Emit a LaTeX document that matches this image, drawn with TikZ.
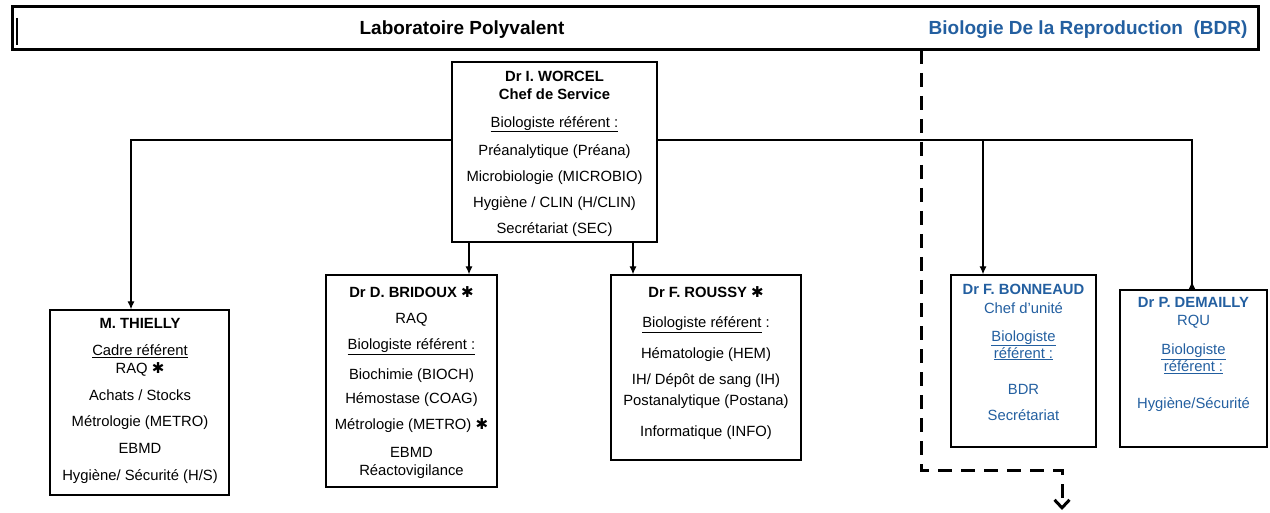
\documentclass[tikz,border=0pt]{standalone}
\usepackage{fontspec}
\setmainfont{Liberation Sans}
\newfontfamily\astfont{DejaVu Sans}
\usepackage{tikz}
\usetikzlibrary{arrows.meta}
\usetikzlibrary{positioning}
\usepackage{xcolor}
\definecolor{bdrblue}{RGB}{35,95,160}
\newcommand{\refmark}{{\astfont\fontsize{15}{16}\selectfont ✱}}
\newcommand{\ul}[1]{\underline{#1}}

\begin{document}
\begin{tikzpicture}[x=1pt,y=-1pt,
    unit/.style={draw,line width=1.3pt,inner sep=0pt},
    txt/.style={align=center,inner sep=0pt,anchor=north,
      font=\fontsize{14.8}{18}\selectfont},
    arr/.style={line width=1.2pt,-{Latex[length=8pt,width=7pt]}},
    revarr/.style={line width=1.2pt,-{Latex[length=8pt,width=7pt,reversed]}},
    dashline/.style={line width=3pt,dash pattern=on 14pt off 9pt,
      -{Straight Barb[length=8pt,width=15pt]}}]
  \useasboundingbox (0,0) rectangle (1270,513);
  %% banner
  \node[draw,line width=3pt,minimum width=1246pt,minimum height=43pt]
    (banner) at (635,28.5) {};
  \draw[line width=1.5pt] (17,18) -- (17,45);
  \node[font=\fontsize{19}{20}\selectfont\bfseries] (labo) at (462,30)
    {Laboratoire Polyvalent};
  \node[font=\fontsize{19}{20}\selectfont\bfseries,text=bdrblue,anchor=east]
    (bdr) at (1251,30) {Biologie De la Reproduction\ \ (BDR)};
  %% boxes
  \node[unit,minimum width=205pt,minimum height=180pt] (worcel) at (554.5,152) {};
  \node[unit,minimum width=179pt,minimum height=185pt] (thielly) at (139.5,402.5) {};
  \node[unit,minimum width=171pt,minimum height=212pt] (bridoux) at (411.5,381) {};
  \node[unit,minimum width=190pt,minimum height=185pt] (roussy) at (706,367.5) {};
  \node[unit,minimum width=145pt,minimum height=172pt] (bonneaud) at (1023.5,361) {};
  \node[unit,minimum width=147pt,minimum height=157pt] (demailly) at (1193.5,368.5) {};
  %% texts
  \node[txt] (worcel-txt) at (554.5,70.5) {\textbf{Dr I. WORCEL}\\
    \textbf{Chef de Service}\\[10pt]
    \ul{Biologiste référent :}\\[10pt]
    Préanalytique (Préana)\\[8pt]
    Microbiologie (MICROBIO)\\[8pt]
    Hygiène / CLIN (H/CLIN)\\[8pt]
    Secrétariat (SEC)};
  \node[txt] (thielly-txt) at (140,318.5) {\textbf{M. THIELLY}\\[9pt]
    \ul{Cadre référent}\\
    RAQ \refmark\\[9pt]
    Achats / Stocks\\[8pt]
    Métrologie (METRO)\\[9pt]
    EBMD\\[9pt]
    Hygiène/ Sécurité (H/S)};
  \node[txt] (bridoux-txt) at (411.5,286.5) {\textbf{Dr D. BRIDOUX} \refmark\\[8pt]
    RAQ\\[8pt]
    \ul{Biologiste référent :}\\[12pt]
    Biochimie (BIOCH)\\[6pt]
    Hémostase (COAG)\\[8pt]
    Métrologie (METRO) \refmark\\[10pt]
    EBMD\\
    Réactovigilance};
  \node[txt] (roussy-txt) at (706,286.5) {\textbf{Dr F. ROUSSY} \refmark\\[12pt]
    \ul{Biologiste référent} :\\[13pt]
    Hématologie (HEM)\\[8pt]
    IH/ Dépôt de sang (IH)\\[3pt]
    Postanalytique (Postana)\\[13pt]
    Informatique (INFO)};
  \node[txt,text=bdrblue] (bonneaud-txt) at (1023.5,283.5) {\textbf{Dr F. BONNEAUD}\\[1pt]
    Chef d'unité\\[10pt]
    \ul{Biologiste}\\[-1pt]
    \ul{référent :}\\[18pt]
    BDR\\[8pt]
    Secrétariat};
  \node[txt,text=bdrblue] (demailly-txt) at (1193.5,297.5) {\textbf{Dr P. DEMAILLY}\\
    RQU\\[11pt]
    \ul{Biologiste}\\[-1pt]
    \ul{référent :}\\[19pt]
    Hygiène/Sécurité};
  %% connectors
  \coordinate (lcorner) at (131,140);
  \coordinate (rcorner) at (1192,140);
  \coordinate (bjoin) at (983,140);
  \draw[arr] (worcel.west |- lcorner) -- (lcorner) -- (lcorner |- thielly.north);
  \draw[revarr] (worcel.east |- rcorner) -- (rcorner) -- (rcorner |- demailly.north);
  \draw[arr] (bjoin) -- (bjoin |- bonneaud.north);
  \draw[arr] ([xshift=-85.5pt]worcel.south) -- ([xshift=-85.5pt]worcel.south |- bridoux.north);
  \draw[arr] ([xshift=78.5pt]worcel.south) -- ([xshift=78.5pt]worcel.south |- roussy.north);
  %% dashed link to BDR
  \coordinate (dtop) at (921,50);
  \coordinate (dcorner) at (921,470);
  \coordinate (dturn) at (1062,470);
  \coordinate (dend) at (1062,510);
  \draw[dashline] (dtop) -- (dcorner) -- (dturn) -- (dend);
\end{tikzpicture}
\end{document}
